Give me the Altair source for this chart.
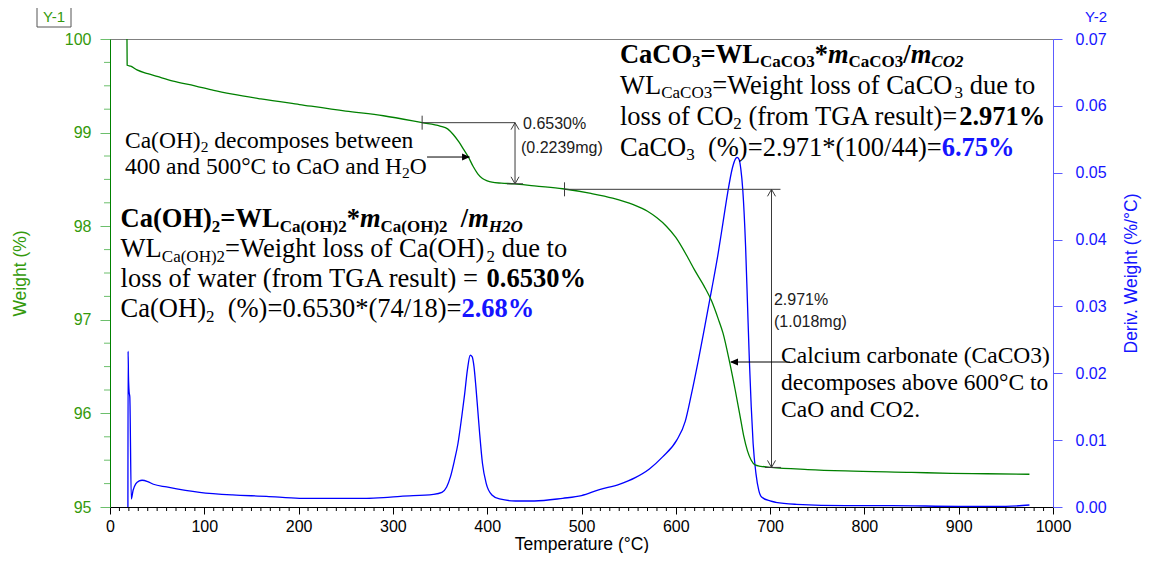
import altair as alt
import pandas as pd

# ---------------- data ----------------
temp_weight = [18, 18.2, 22, 28.6, 40, 50, 67, 90, 110, 130, 160, 201, 250, 290, 331, 350, 358, 364, 370, 375,
               380, 385, 390, 395, 400, 405, 415, 429, 450, 480, 510, 533, 555, 570, 580, 590, 600, 613, 620, 630,
               638, 645, 650, 657, 663, 668, 672, 676, 680, 684, 690, 701, 740, 780, 850, 892, 930, 975]
weight_pct = [100.0, 99.72, 99.71, 99.67, 99.63, 99.60, 99.55, 99.50, 99.45, 99.41, 99.36, 99.30, 99.23, 99.18,
              99.106, 99.07, 99.04, 98.98, 98.90, 98.82, 98.74, 98.64, 98.56, 98.51, 98.485, 98.47, 98.46, 98.453,
              98.43, 98.40, 98.35, 98.30, 98.23, 98.16, 98.09, 98.00, 97.88, 97.66, 97.53, 97.36, 97.20, 97.01,
              96.86, 96.55, 96.25, 95.98, 95.76, 95.60, 95.50, 95.45, 95.435, 95.423, 95.40, 95.385, 95.37, 95.36,
              95.355, 95.35]

temp_deriv = [19, 19.2, 19.6, 20.3, 21.0, 22.6, 24.5, 27.5, 31, 34, 40, 46, 60, 80, 95, 130, 166, 201, 237, 272,
              290, 308, 343, 352, 357, 361, 365, 369, 373, 376, 379, 382, 384, 386, 388, 390, 392, 395, 399, 405,
              413, 430, 450, 480, 500, 519, 540, 557, 572, 586, 601, 610, 616, 624, 631, 638, 645, 650, 655, 660,
              663, 665, 667, 669, 671, 674, 676, 678, 680, 682, 685, 688, 691, 700, 706, 728, 780, 829, 900, 950,
              975]
deriv_pct = [0.0, 0.0233, 0.0195, 0.0172, 0.0165, 0.0012, 0.0025, 0.0035, 0.0039, 0.0040, 0.0038, 0.0034, 0.0030,
             0.0025, 0.0022, 0.0018, 0.0016, 0.0013, 0.0013, 0.0013, 0.0014, 0.0016, 0.0019, 0.0022, 0.0030, 0.0045,
             0.0068, 0.0095, 0.0135, 0.0168, 0.0205, 0.0227, 0.0225, 0.0210, 0.0180, 0.0145, 0.0110, 0.0065, 0.0035,
             0.0018, 0.0012, 0.0009, 0.0009, 0.0013, 0.0017, 0.0026, 0.0034, 0.0044, 0.0057, 0.0075, 0.0100, 0.0128,
             0.0165, 0.0220, 0.0272, 0.0325, 0.0380, 0.0425, 0.0470, 0.0507, 0.0520, 0.0523, 0.0520, 0.0505, 0.0475,
             0.0390, 0.0305, 0.0220, 0.0150, 0.0095, 0.0050, 0.0025, 0.0015, 0.0009, 0.0007, 0.0004, 0.0002, 0.0002,
             0.0001, 0.0001, 0.0003]

x_major = list(range(0, 1001, 100))
x_minor = [t for t in range(0, 1001, 10) if t % 100]
w_major = [95, 96, 97, 98, 99, 100]
w_minor = [95 + 0.25 * i for i in range(21) if i % 4]
d_ticks = [0.0, 0.01, 0.02, 0.03, 0.04, 0.05, 0.06, 0.07]

# step-analysis results (start/end temperature, weight levels)
caoh_step = dict(t0=331, t1=429.5, t_end=429.5, bot=(421, 438), w_hi=99.106, w_lo=98.453,
                 label1="0.6530%", label2="(0.2239mg)")
caco3_step = dict(t0=482, t1=701.5, t_end=711, bot=(694.5, 711.5), w_hi=98.394, w_lo=95.423,
                  label1="2.971%", label2="(1.018mg)")

# ---------------- styling / geometry ----------------
W, H = 943, 468
PX_C = W / 1000.0      # pixels per degree
PX_W = H / 5.0         # pixels per weight %
GREEN = "#008000"
GREEN_TICK = "#6cbf6c"
GREEN_LABEL = "#349a0c"
BLUE = "#0000ff"
BLUE_AXIS = "#5c5cff"
BLUE_TXT = "#1515ff"
DARK = "#3a3a3a"
SANS = "Liberation Sans"
SERIF = "Liberation Serif"

xscale = alt.Scale(domain=[0, 1000], nice=False, zero=False)
wscale = alt.Scale(domain=[95, 100], nice=False, zero=False)
dscale = alt.Scale(domain=[0, 0.07], nice=False, zero=False)

x_axis = alt.Axis(values=x_major, format="d", tickSize=7, orient="bottom",
                  title="Temperature (°C)", domainColor="#000000", tickColor="#000000", labelColor="#000000",
                  labelFont=SANS, labelFontSize=16, titleFont=SANS, titleFontSize=17.5, titleFontWeight="normal",
                  titleColor="#000000", labelPadding=4, titlePadding=1, labelFlush=False, labelOverlap=False,
                  grid=False)
w_axis = alt.Axis(values=w_major, format="d", orient="left", tickSize=10,
                  title="Weight (%)", domainColor=GREEN, tickColor=GREEN_TICK, labelColor=GREEN_LABEL,
                  labelFont=SANS, labelFontSize=16, titleFont=SANS, titleFontSize=17.5, titleFontWeight="normal",
                  titleColor=GREEN_LABEL, labelPadding=9, titlePadding=35, labelFlush=False, labelOverlap=False,
                  grid=False)
d_axis = alt.Axis(values=d_ticks, format=".2f", orient="right", tickSize=9,
                  title="Deriv. Weight (%/°C)", titleAngle=270, titleBaseline="top",
                  domainColor=BLUE_AXIS, tickColor=BLUE_AXIS,
                  labelColor=BLUE_TXT, labelFont=SANS, labelFontSize=16, titleFont=SANS, titleFontSize=17.5,
                  titleFontWeight="normal", titleColor=BLUE_TXT, labelPadding=13, titlePadding=16,
                  labelFlush=False, labelOverlap=False, grid=False)

def X(field="T"):
    # x axis left unspecified here, so the shared x axis defined on the first layer is kept
    return alt.X(f"{field}:Q", scale=xscale)

def Yw(field="w"):
    return alt.Y(f"{field}:Q", scale=wscale, axis=None)

# ---------------- curves ----------------
df_w = pd.DataFrame({"T": temp_weight, "w": weight_pct})
df_d = pd.DataFrame({"T": temp_deriv, "d": deriv_pct})

deriv_line = alt.Chart(df_d).mark_line(color=BLUE, strokeWidth=1.3, interpolate="monotone").encode(
    x=alt.X("T:Q", scale=xscale, axis=x_axis),
    y=alt.Y("d:Q", scale=dscale, axis=d_axis),
)
weight_line = alt.Chart(df_w).mark_line(color=GREEN, strokeWidth=1.3, interpolate="monotone").encode(
    x=X(),
    y=alt.Y("w:Q", scale=wscale, axis=w_axis),
)

# minor ticks (drawn from the tick value lists)
x_minor_ticks = alt.Chart(pd.DataFrame({"T": x_minor})).mark_rule(color="#000000", strokeWidth=1).encode(
    x=X(), y=alt.value(H), y2=alt.value(H + 4))
w_minor_ticks = alt.Chart(pd.DataFrame({"w": w_minor})).mark_rule(color=GREEN_TICK, strokeWidth=1).encode(
    y=Yw(), x=alt.value(0), x2=alt.value(-6))

# ---------------- step analysis marks ----------------
TICK_HALF = 7 / PX_W
segs, chev, lbls = [], [], []
for st in (caoh_step, caco3_step):
    segs.append(dict(T=st["t0"], T2=st["t_end"], w=st["w_hi"], w2=st["w_hi"]))
    segs.append(dict(T=st["t0"], T2=st["t0"], w=st["w_hi"] + TICK_HALF, w2=st["w_hi"] - TICK_HALF))
    segs.append(dict(T=st["t1"], T2=st["t1"], w=st["w_hi"], w2=st["w_lo"]))
    segs.append(dict(T=st["bot"][0], T2=st["bot"][1], w=st["w_lo"], w2=st["w_lo"]))
    chev.append(dict(T=st["t1"], w=st["w_hi"], dir="up"))
    chev.append(dict(T=st["t1"], w=st["w_lo"], dir="down"))
lbls.append(dict(T=438.0, w=99.038, text=caoh_step["label1"]))
lbls.append(dict(T=435.8, w=98.782, text=caoh_step["label2"]))
lbls.append(dict(T=704.1, w=97.158, text=caco3_step["label1"]))
lbls.append(dict(T=704.1, w=96.923, text=caco3_step["label2"]))

seg_layer = alt.Chart(pd.DataFrame(segs)).mark_rule(color=DARK, strokeWidth=1).encode(
    x=X(), x2="T2:Q", y=Yw(), y2="w2:Q")
df_chev = pd.DataFrame(chev)
chev_up = alt.Chart(df_chev[df_chev.dir == "up"]).mark_point(
    shape="M-1,1.75L0,0L1,1.75", filled=False, size=64, color=DARK, opacity=1, strokeWidth=1).encode(x=X(), y=Yw())
chev_dn = alt.Chart(df_chev[df_chev.dir == "down"]).mark_point(
    shape="M-1,-1.75L0,0L1,-1.75", filled=False, size=64, color=DARK, opacity=1, strokeWidth=1).encode(x=X(), y=Yw())
step_text = alt.Chart(pd.DataFrame(lbls)).mark_text(
    font=SANS, fontSize=16, align="left", baseline="alphabetic", color="#202020").encode(
    x=X(), y=Yw(), text="text:N")

# annotation arrows
arrows = pd.DataFrame([
    dict(T=336.2, T2=381.0, w=98.739, w2=98.739),
    dict(T=721.0, T2=658.5, w=96.549, w2=96.549),
])
arrow_lines = alt.Chart(arrows).mark_rule(color="#000000", strokeWidth=1).encode(
    x=X(), x2="T2:Q", y=Yw(), y2="w2:Q")
head_r = alt.Chart(pd.DataFrame([dict(T=381.8, w=98.739)])).mark_point(
    shape="M0,0L-4,-1.75L-4,1.75Z", filled=True, size=16, color="#000000", opacity=1).encode(x=X(), y=Yw())
head_l = alt.Chart(pd.DataFrame([dict(T=657.5, w=96.549)])).mark_point(
    shape="M0,0L4,-1.75L4,1.75Z", filled=True, size=16, color="#000000", opacity=1).encode(x=X(), y=Yw())

# ---------------- rich text blocks (Times metrics) ----------------
R, B, BI = "R", "B", "BI"
_d = {c: 500 for c in "0123456789"}
WIDTHS = {
    R: dict(_d, **{" ": 250, "%": 833, "(": 333, ")": 333, "*": 500, ".": 250, "/": 278, "=": 564, "°": 400,
                   "A": 722, "C": 667, "G": 722, "H": 722, "L": 611, "O": 722, "T": 611, "W": 944,
                   "a": 444, "b": 500, "c": 444, "d": 500, "e": 444, "f": 333, "g": 500, "h": 500, "i": 278,
                   "l": 278, "m": 778, "n": 500, "o": 500, "p": 500, "r": 333, "s": 389, "t": 278, "u": 500,
                   "v": 500, "w": 722}),
    B: dict(_d, **{" ": 250, "%": 1000, "(": 333, ")": 333, "*": 500, ".": 250, "/": 278, "=": 570,
                   "A": 722, "C": 722, "H": 778, "L": 667, "O": 778, "W": 1000, "a": 500, "m": 833}),
    BI: dict(_d, **{" ": 250, "/": 278, "m": 778, "H": 778, "O": 722, "C": 667}),
}

def tw(s, style, size):
    return sum(WIDTHS[style][c] for c in s) * size / 1000.0

block_a = [
    [("Ca(OH)", B, 0), ("2", B, 1), ("=WL", B, 0), ("Ca(OH)2", B, 1), ("*", B, 0), ("m", BI, 0),
     ("Ca(OH)2", B, 1), ("  /", B, 0), ("m", BI, 0), ("H2O", BI, 1)],
    [("WL", R, 0), ("Ca(OH)2", R, 1), ("=Weight loss of Ca(OH)", R, 0), ("2", R, 1), (" due to", R, 0)],
    [("loss of water (from TGA result) = ", R, 0), ("0.6530%", B, 0)],
    [("Ca(OH)", R, 0), ("2", R, 1), ("  (%)=0.6530*(74/18)=", R, 0), ("2.68%", B, 0, BLUE_TXT)],
]
block_b = [
    [("CaCO", B, 0), ("3", B, 1), ("=WL", B, 0), ("CaCO3", B, 1), ("*", B, 0), ("m", BI, 0),
     ("CaCO3", B, 1), ("/", B, 0), ("m", BI, 0), ("CO2", BI, 1)],
    [("WL", R, 0), ("CaCO3", R, 1), ("=Weight loss of CaCO", R, 0), ("3", R, 1), (" due to", R, 0)],
    [("loss of CO", R, 0), ("2", R, 1), (" (from TGA result)=", R, 0), ("2.971%", B, 0)],
    [("CaCO", R, 0), ("3", R, 1), ("  (%)=2.971*(100/44)=", R, 0), ("6.75%", B, 0, BLUE_TXT)],
]
note_a = [
    [("Ca(OH)", R, 0), ("2", R, 1), (" decomposes between", R, 0)],
    [("400 and 500°C to CaO and H", R, 0), ("2", R, 1), ("O", R, 0)],
]
note_b = ["Calcium carbonate (CaCO3)", "decomposes above 600°C to", "CaO and CO2."]

rows = []
def layout(lines, t0, w0, gap, size, sub_size, sub_shift):
    for i, line in enumerate(lines):
        x = t0 * PX_C
        base = w0 - i * gap / PX_W
        for frag in line:
            s, style, sub = frag[0], frag[1], frag[2]
            color = frag[3] if len(frag) > 3 else "#000000"
            fs = sub_size if sub else size
            lead = len(s) - len(s.lstrip(" "))
            xd = x + tw(" " * lead, style, fs)
            rows.append(dict(T=xd / PX_C, w=base - (sub_shift if sub else 0) / PX_W, text=s.strip(),
                             style=style, size=fs, color=color))
            x += tw(s, style, fs)

layout(block_a, 11.24, 97.991, 30, 26.5, 17, 4.5)
layout(block_b, 540.8, 99.744, 31, 26.5, 17, 4.5)
layout(note_a, 15.9, 98.835, 26, 23.5, 15.5, 4)
df_rows = pd.DataFrame(rows)

text_layers = []
for (style, size, color), g in df_rows.groupby(["style", "size", "color"]):
    text_layers.append(alt.Chart(g.reset_index(drop=True)).mark_text(
        font=SERIF, fontSize=float(size), fontWeight="bold" if style in (B, BI) else "normal",
        fontStyle="italic" if style == BI else "normal", align="left", baseline="alphabetic",
        color=color).encode(x=X(), y=Yw(), text="text:N"))

df_note_b = pd.DataFrame({"text": note_b, "T": [711.6] * 3,
                          "w": [96.542 - i * 27 / PX_W for i in range(3)]})
note_b_layer = alt.Chart(df_note_b).mark_text(font=SERIF, fontSize=23.5, align="left", baseline="alphabetic",
                                              color="#000000").encode(x=X(), y=Yw(), text="text:N")

# ---------------- Y-1 / Y-2 tags ----------------
one = pd.DataFrame({"k": [0]})
y1_box = alt.Chart(one).mark_rect(fill="white", stroke="#555555", strokeWidth=1).encode(
    x=alt.value(-73), x2=alt.value(-39), y=alt.value(-33), y2=alt.value(-12))
y1_txt = alt.Chart(one).mark_text(font=SANS, fontSize=15, color=GREEN_LABEL, align="center",
                                  baseline="middle").encode(x=alt.value(-56), y=alt.value(-22), text=alt.value("Y-1"))
y2_txt = alt.Chart(one).mark_text(font=SANS, fontSize=15, color=BLUE_TXT, align="center",
                                  baseline="middle").encode(x=alt.value(986), y=alt.value(-22), text=alt.value("Y-2"))

chart = alt.layer(
    deriv_line, weight_line, w_minor_ticks, x_minor_ticks, seg_layer, chev_up, chev_dn, step_text,
    arrow_lines, head_r, head_l, *text_layers, note_b_layer, y1_box, y1_txt, y2_txt,
).resolve_scale(y="independent").properties(
    width=W, height=H,
    padding={"left": 102, "top": 31, "right": 90, "bottom": 46},
    autosize=alt.AutoSizeParams(type="none"),
).configure_view(stroke="#808080", strokeWidth=1)

chart.save("out.html", embed_options={"renderer": "svg", "actions": False})
